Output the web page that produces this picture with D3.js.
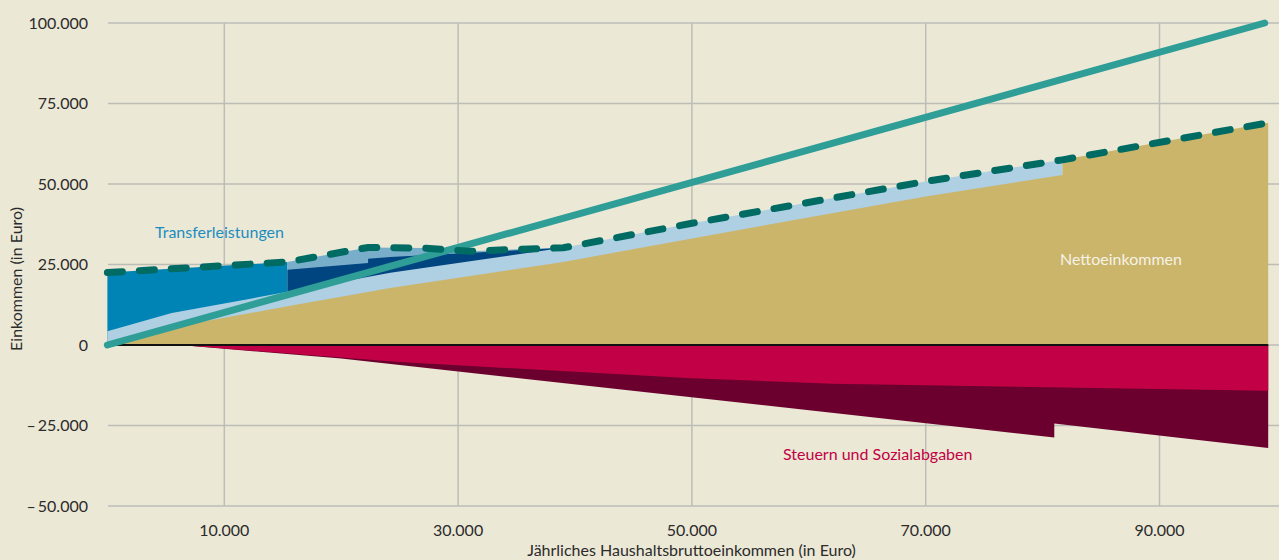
<!DOCTYPE html>
<html>
<head>
<meta charset="utf-8">
<script src="https://cdn.jsdelivr.net/npm/d3@7"></script>
<style>
  html, body { margin: 0; padding: 0; background: #ECE8D6; }
  svg { display: block; }
  text { font-family: Lato, "Open Sans", sans-serif; }
</style>
</head>
<body>
<svg id="chart" width="1279" height="560"></svg>
<script>
// ---------- data (Euro) ----------
const xTicks = [10000, 30000, 50000, 70000, 90000];
const xTickLabels = ["10.000", "30.000", "50.000", "70.000", "90.000"];
const yTicks = [100000, 75000, 50000, 25000, 0, -25000, -50000];
const yTickLabels = ["100.000", "75.000", "50.000", "25.000", "0", "\u2013\u200925.000", "\u2013\u200950.000"];

// gross income line (Bruttoeinkommen)
const grossLine = [[0, 0], [99000, 100000]];
// total disposable income incl. transfers (dashed line)
const totalIncome = [[0, 22500], [15400, 25800], [22300, 30300], [27000, 30100], [31000, 29100],
  [35000, 29700], [39000, 30200], [50000, 37800], [70000, 50800], [81700, 57500], [99300, 69000]];
// ranges of transfer types
const buergergeldRange = [0, 15400];
const kinderzuschlagRange = [15400, 39000];
// top of Wohngeld layer
const wohngeldTop = [[15400, 23400], [22300, 25500], [22300, 26800], [24200, 27300], [39000, 30200]];
// top of Kindergeld layer
const kindergeldTop = [[0, 4300], [5500, 9900], [15400, 16500], [24200, 22400], [39000, 30200],
  [50000, 37800], [70000, 50800], [81700, 57500]];
// Nettoeinkommen
const netIncome = [[0, 0], [5500, 5500], [15400, 12000], [24200, 17700], [39000, 25800], [50000, 33100],
  [70000, 46100], [81700, 52800], [81700, 57500], [99300, 69000]];
// Steuern + Sozialabgaben (total deductions) and Sozialabgaben alone
const totalDeductions = [[0, 0], [6200, 0], [20000, -4200], [81000, -28700], [81000, -24400], [99300, -32000]];
const socialContrib = [[0, 0], [6200, 0], [25000, -5300], [50000, -10300], [62000, -12000], [99300, -14200]];

// ---------- colours ----------
const C = {
  bg: "#ECE8D6", grid: "#BDBDB8", sand: "#CBB56B", lightBlue: "#AFCFE3", midBlue: "#0083B5",
  navy: "#00457F", steel: "#79AECB", crimson: "#C20045", maroon: "#6B002E",
  teal: "#2E9E97", dark: "#006B62"
};

const svg = d3.select("#chart");
const x = d3.scaleLinear().domain([0, 100000]).range([107.4, 1276.4]);
const y = d3.scaleLinear().domain([-50000, 100000]).range([506, 23]);

svg.append("rect").attr("width", 1279).attr("height", 560).attr("fill", C.bg);

// grid
svg.append("g").selectAll("line").data(yTicks).join("line")
  .attr("x1", 108).attr("x2", 1279)
  .attr("y1", d => y(d)).attr("y2", d => y(d))
  .attr("stroke", C.grid).attr("stroke-width", 1.5);
svg.append("g").selectAll("line").data(xTicks).join("line")
  .attr("x1", d => x(d)).attr("x2", d => x(d))
  .attr("y1", y(100000)).attr("y2", y(-50000))
  .attr("stroke", C.grid).attr("stroke-width", 1.5);

// areas
const area = d3.area().x(d => x(d[0])).y0(y(0)).y1(d => y(d[1]));
const inRange = (arr, r) => arr.filter(d => d[0] >= r[0] && d[0] <= r[1]);

svg.append("path").datum(inRange(totalIncome, buergergeldRange)).attr("d", area).attr("fill", C.midBlue);
svg.append("path").datum(inRange(totalIncome, kinderzuschlagRange)).attr("d", area).attr("fill", C.steel);
svg.append("path").datum(wohngeldTop).attr("d", area).attr("fill", C.navy);
svg.append("path").datum(kindergeldTop).attr("d", area).attr("fill", C.lightBlue);
svg.append("path").datum(netIncome).attr("d", area).attr("fill", C.sand);
svg.append("path").datum(totalDeductions).attr("d", area).attr("fill", C.maroon);
svg.append("path").datum(socialContrib).attr("d", area).attr("fill", C.crimson);

// zero line
svg.append("line").attr("x1", x(0)).attr("x2", x(99300)).attr("y1", y(0)).attr("y2", y(0))
  .attr("stroke", "#111").attr("stroke-width", 2);

const line = d3.line().x(d => x(d[0])).y(d => y(d[1]));
svg.append("path").datum(grossLine).attr("d", line).attr("fill", "none")
  .attr("stroke", C.teal).attr("stroke-width", 7).attr("stroke-linecap", "round");
svg.append("path").datum(totalIncome).attr("d", line).attr("fill", "none")
  .attr("stroke", C.dark).attr("stroke-width", 7).attr("stroke-linecap", "round")
  .attr("stroke-dasharray", "15 17");

// tick labels
svg.append("g").selectAll("text").data(yTicks).join("text")
  .attr("x", 88).attr("y", d => y(d)).attr("dy", "0.35em").attr("text-anchor", "end")
  .attr("font-size", 16).attr("fill", "#2b2b2b").text((d, i) => yTickLabels[i]);
svg.append("g").selectAll("text").data(xTicks).join("text")
  .attr("x", d => x(d)).attr("y", 536).attr("text-anchor", "middle")
  .attr("font-size", 16).attr("fill", "#2b2b2b").text((d, i) => xTickLabels[i]);

// axis titles
svg.append("text").attr("x", 691.5).attr("y", 556).attr("text-anchor", "middle")
  .attr("font-size", 16).attr("fill", "#2b2b2b").text("Jährliches Haushaltsbruttoeinkommen (in Euro)");
svg.append("text").attr("transform", "translate(22,279) rotate(-90)").attr("text-anchor", "middle")
  .attr("font-size", 16).attr("fill", "#2b2b2b").text("Einkommen (in Euro)");

// series labels
svg.append("text").attr("x", 155).attr("y", 238).attr("font-size", 16).attr("fill", "#1B8DC0").text("Transferleistungen");
svg.append("text").attr("x", 1060).attr("y", 265).attr("font-size", 16).attr("fill", "#F5F2E6").text("Nettoeinkommen");
svg.append("text").attr("x", 783).attr("y", 460).attr("font-size", 16).attr("fill", C.crimson).text("Steuern und Sozialabgaben");
</script>
</body>
</html>
